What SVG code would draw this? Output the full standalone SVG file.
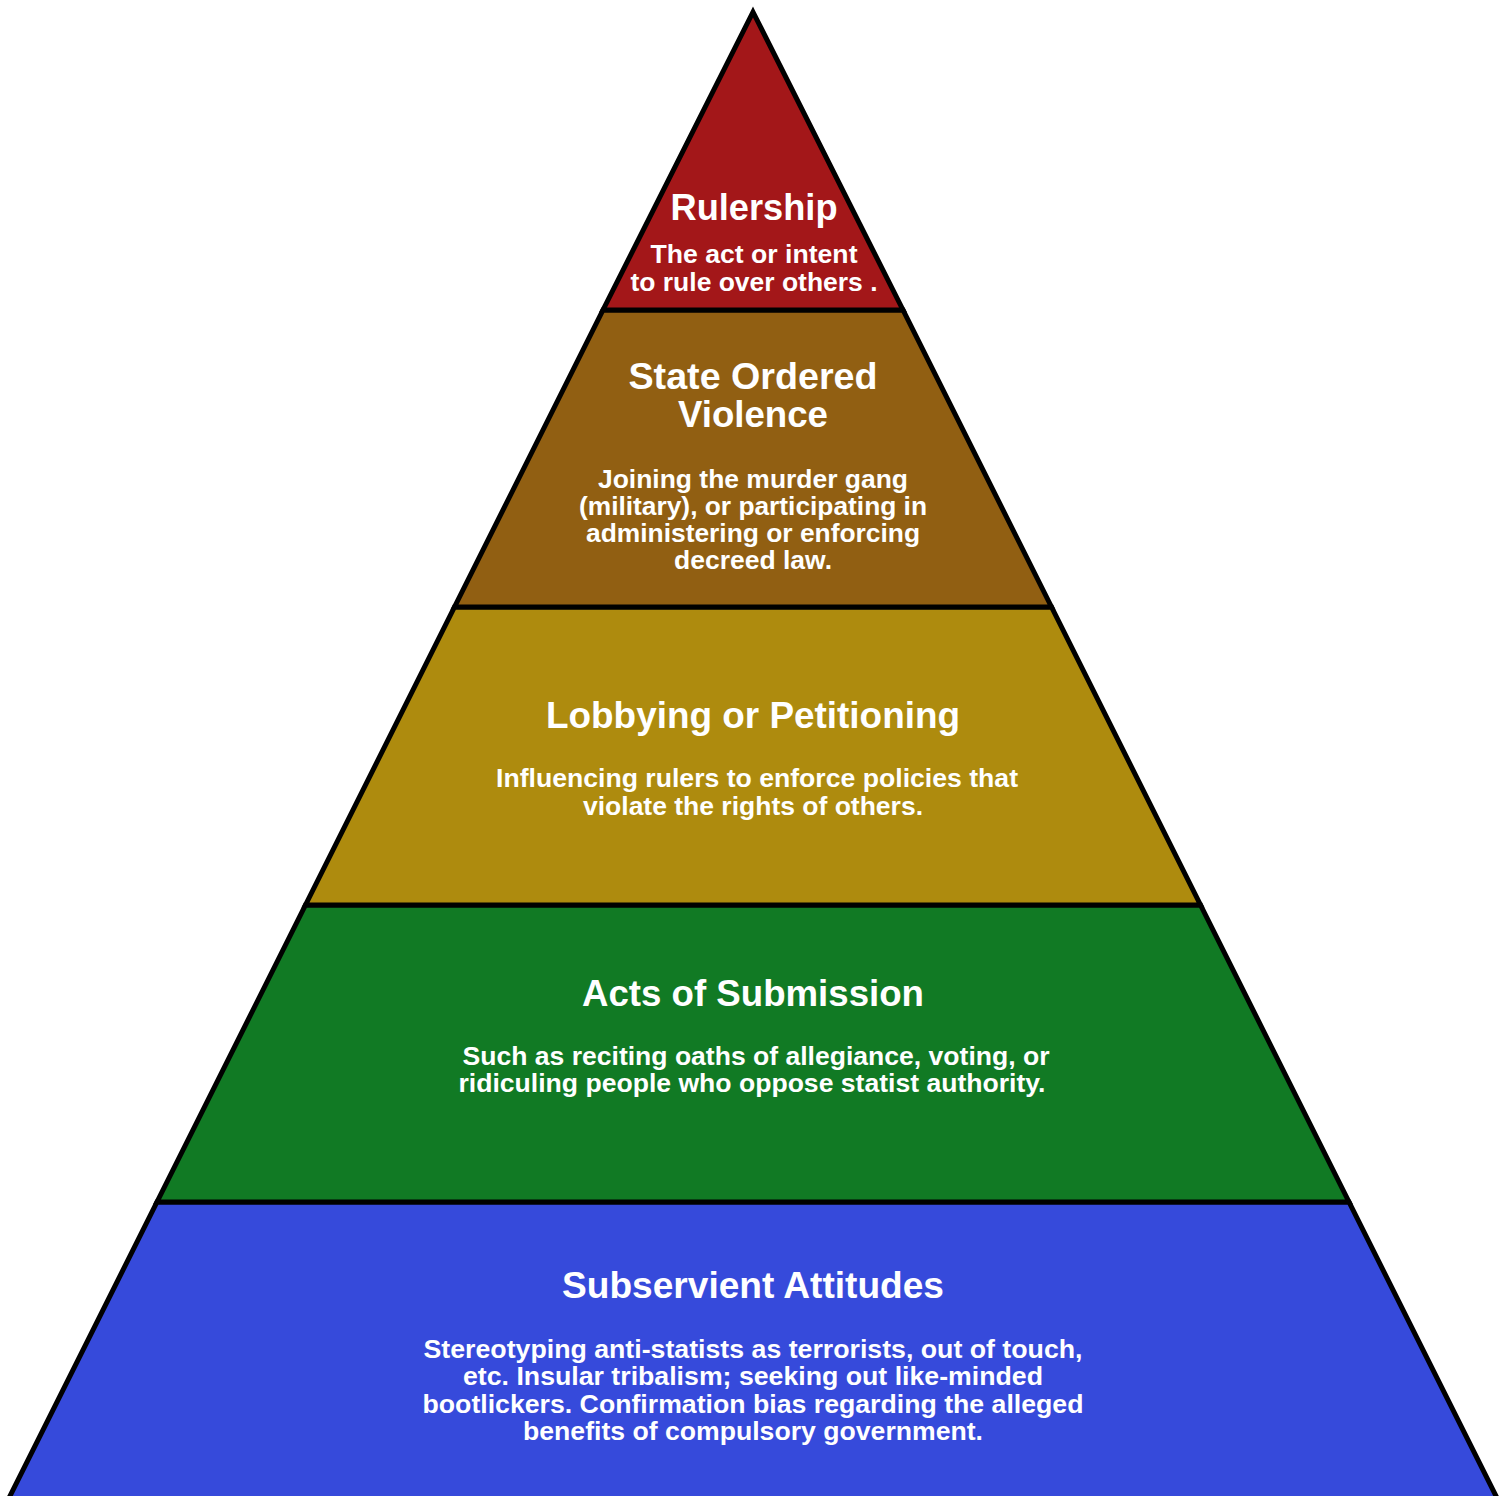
<svg xmlns="http://www.w3.org/2000/svg" width="1507" height="1496" viewBox="0 0 1507 1496">
<style>
.layer { stroke: #000; stroke-width: 5; stroke-linejoin: miter; stroke-miterlimit: 10; }
.t { font-family: "Liberation Sans", Arial, sans-serif; font-weight: bold; fill: #fff; text-anchor: middle; }
.h { font-size: 36px; }
.b { font-size: 25px; }
</style>
<rect x="0" y="0" width="1507" height="1496" fill="#fff"/>
<g id="subservient-attitudes">
  <polygon class="layer" fill="#364ADB" points="157,1202 1349,1202 1503,1510 3,1510"/>
  <text class="t h" x="753" y="1298" textLength="382" lengthAdjust="spacingAndGlyphs">Subservient Attitudes</text>
  <text class="t b" x="753" y="1358" textLength="659" lengthAdjust="spacingAndGlyphs">Stereotyping anti-statists as terrorists, out of touch,</text>
  <text class="t b" x="753" y="1385" textLength="580" lengthAdjust="spacingAndGlyphs">etc. Insular tribalism; seeking out like-minded</text>
  <text class="t b" x="753" y="1413" textLength="661" lengthAdjust="spacingAndGlyphs">bootlickers. Confirmation bias regarding the alleged</text>
  <text class="t b" x="753" y="1440" textLength="460" lengthAdjust="spacingAndGlyphs">benefits of compulsory government.</text>
</g>
<g id="acts-of-submission">
  <polygon class="layer" fill="#117A24" points="305.5,905 1200.5,905 1349,1202 157,1202"/>
  <text class="t h" x="753" y="1006" textLength="342" lengthAdjust="spacingAndGlyphs">Acts of Submission</text>
  <text class="t b" x="756" y="1065" textLength="587" lengthAdjust="spacingAndGlyphs">Such as reciting oaths of allegiance, voting, or</text>
  <text class="t b" x="752" y="1092" textLength="587" lengthAdjust="spacingAndGlyphs">ridiculing people who oppose statist authority.</text>
</g>
<g id="lobbying-or-petitioning">
  <polygon class="layer" fill="#AE8B0E" points="454.5,607 1051.5,607 1200.5,905 305.5,905"/>
  <text class="t h" x="753" y="728" textLength="414" lengthAdjust="spacingAndGlyphs">Lobbying or Petitioning</text>
  <text class="t b" x="757" y="787" textLength="522" lengthAdjust="spacingAndGlyphs">Influencing rulers to enforce policies that</text>
  <text class="t b" x="753" y="815" textLength="340" lengthAdjust="spacingAndGlyphs">violate the rights of others.</text>
</g>
<g id="state-ordered-violence">
  <polygon class="layer" fill="#915F12" points="603,310 903,310 1051.5,607 454.5,607"/>
  <text class="t h" x="753" y="389" textLength="249" lengthAdjust="spacingAndGlyphs">State Ordered</text>
  <text class="t h" x="753" y="427" textLength="150" lengthAdjust="spacingAndGlyphs">Violence</text>
  <text class="t b" x="753" y="488" textLength="310" lengthAdjust="spacingAndGlyphs">Joining the murder gang</text>
  <text class="t b" x="753" y="515" textLength="348" lengthAdjust="spacingAndGlyphs">(military), or participating in</text>
  <text class="t b" x="753" y="542" textLength="334" lengthAdjust="spacingAndGlyphs">administering or enforcing</text>
  <text class="t b" x="753" y="569" textLength="158" lengthAdjust="spacingAndGlyphs">decreed law.</text>
</g>
<g id="rulership">
  <polygon class="layer" fill="#A31719" points="753,12 903,310 603,310"/>
  <text class="t h" x="754" y="220" textLength="167" lengthAdjust="spacingAndGlyphs">Rulership</text>
  <text class="t b" x="754" y="263" textLength="207" lengthAdjust="spacingAndGlyphs">The act or intent</text>
  <text class="t b" x="754" y="291" textLength="247" lengthAdjust="spacingAndGlyphs">to rule over others .</text>
</g>
<g id="connectors"></g>
</svg>
